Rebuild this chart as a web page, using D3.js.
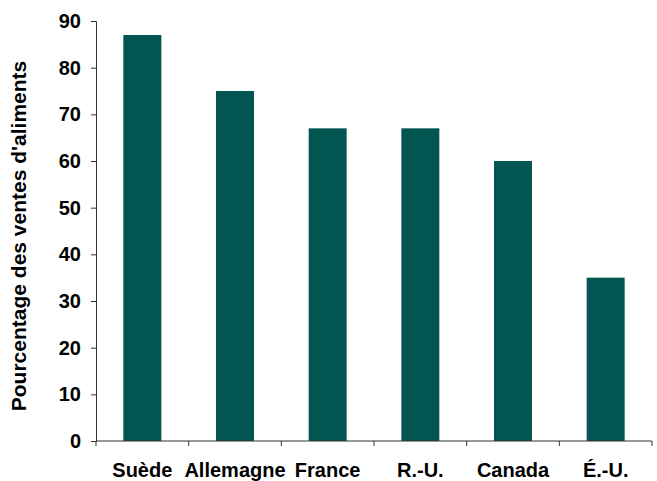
<!DOCTYPE html>
<html>
<head>
<meta charset="utf-8">
<script src="https://cdn.jsdelivr.net/npm/d3@7"></script>
<style>
  body { margin: 0; background: #fff; overflow: hidden; }
  svg { display: block; }
  text { font-family: "Liberation Sans", Arial, sans-serif; font-weight: bold; }
</style>
</head>
<body>
<svg id="svg" width="657" height="481"></svg>
<script>
var pays = ['Suède', 'Allemagne', 'France', 'R.-U.', 'Canada', 'É.-U.'];
var pourcentages = [87, 75, 67, 67, 60, 35];
var yTicks = [0, 10, 20, 30, 40, 50, 60, 70, 80, 90];
var yTitre = "Pourcentage des ventes d'aliments";

function genChart(){
    var s = d3.select('#svg'),
        left = 96, right = 652, top = 21, bottom = 441;

    var x = d3.scaleBand()
        .domain(pays)
        .range([left, right])
        .paddingInner(0.59)
        .paddingOuter(0.295);
    var xb = d3.scaleBand().domain(pays).range([left, right]);
    var y = d3.scaleLinear().domain([0, 90]).range([bottom, top]);

    s.selectAll('rect.bar')
        .data(pourcentages)
        .enter()
        .append('rect')
        .attr('class', 'bar')
        .attr('x', function(d, i){ return x(pays[i]); })
        .attr('y', function(d){ return y(d); })
        .attr('width', x.bandwidth())
        .attr('height', function(d){ return bottom - y(d); })
        .attr('fill', '#025550');

    // axe Y
    var gy = s.append('g')
        .attr('transform', 'translate(' + left + ',0)')
        .call(d3.axisLeft(y).tickValues(yTicks).tickSize(5).tickPadding(10));
    gy.select('.domain').attr('stroke', '#333');
    gy.selectAll('.tick line').attr('stroke', '#333');
    gy.selectAll('.tick text')
        .attr('font-size', 20)
        .attr('fill', '#000')
        .style('font-family', '"Liberation Sans", Arial, sans-serif');

    // axe X : traits aux limites des catégories
    s.append('line')
        .attr('x1', left).attr('x2', right)
        .attr('y1', bottom).attr('y2', bottom)
        .attr('stroke', '#333');
    var limites = pays.map(function(p){ return xb(p); }).concat([right]);
    s.selectAll('line.xtick')
        .data(limites)
        .enter()
        .append('line')
        .attr('class', 'xtick')
        .attr('x1', function(d){ return d; })
        .attr('x2', function(d){ return d; })
        .attr('y1', bottom)
        .attr('y2', bottom + 5)
        .attr('stroke', '#333');
    s.selectAll('text.xlab')
        .data(pays)
        .enter()
        .append('text')
        .attr('class', 'xlab')
        .attr('x', function(d){ return xb(d) + xb.bandwidth() / 2; })
        .attr('y', 477)
        .attr('text-anchor', 'middle')
        .attr('font-size', 20)
        .text(function(d){ return d; });

    s.append('text')
        .attr('transform', 'translate(26,236) rotate(-90)')
        .attr('text-anchor', 'middle')
        .attr('font-size', 21)
        .text(yTitre);
}

genChart();
</script>
</body>
</html>
